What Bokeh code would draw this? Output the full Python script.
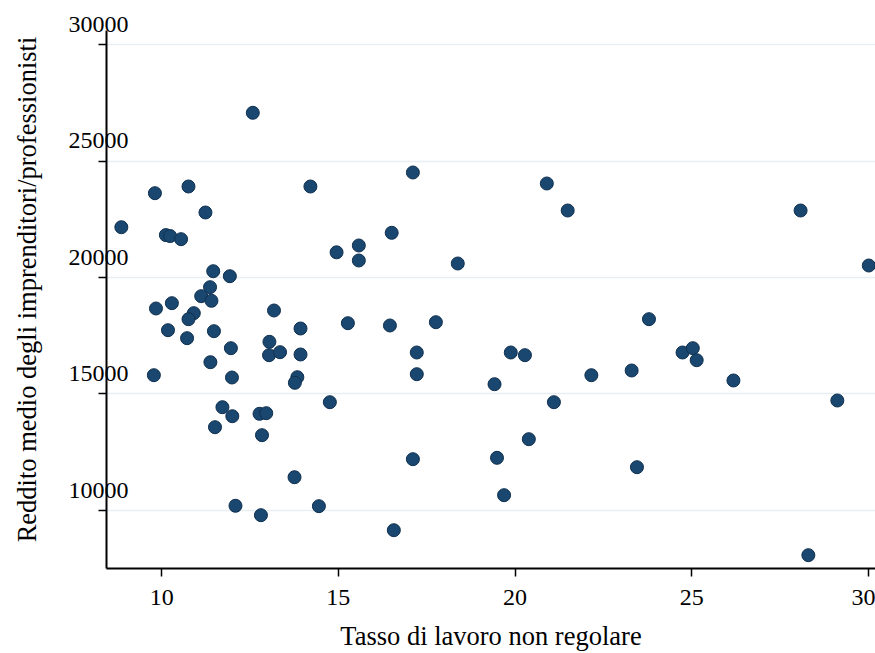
from bokeh.plotting import figure
from bokeh.models import Range1d, LinearAxis, FixedTicker, CustomJSTickFormatter
from bokeh.embed import file_html
from bokeh.resources import INLINE

# Irregular-work rate vs. average income of entrepreneurs/professionals
tasso = [12.58, 8.86, 9.81, 10.76, 11.24, 10.12, 10.24, 10.55, 14.21, 14.95,
         11.46, 11.93, 11.37, 11.12, 11.41, 9.84, 10.29, 10.91, 10.76, 13.18,
         10.18, 10.72, 11.48, 13.93, 15.27, 11.96, 13.05, 13.04, 13.35, 13.93,
         11.38, 9.78, 11.99, 13.84, 13.77, 14.76, 11.72, 12.00, 12.77, 12.96,
         11.51, 12.84, 13.76, 12.09, 12.81, 14.45,
         17.11, 20.90, 21.49, 16.51, 15.58, 15.58, 18.38, 16.46, 17.76,
         17.22, 19.88, 20.28, 17.22, 19.42, 22.16, 21.10, 20.39, 17.11, 19.49,
         19.69, 16.57,
         28.08, 30.01, 23.79, 24.74, 25.03, 25.14, 23.30, 26.18, 29.12, 23.45,
         28.30]
reddito = [27070, 22159, 23619, 23906, 22790, 21820, 21780, 21645, 23906, 21081,
           20270, 20056, 19584, 19198, 19000, 18670, 18898, 18469, 18211, 18584,
           17738, 17395, 17696, 17811, 18039, 16966, 17240, 16666, 16794, 16696,
           16365, 15807, 15708, 15721, 15481, 14648, 14434, 14047, 14150, 14176,
           13575, 13232, 11429, 10202, 9798, 10185,
           24507, 24035, 22876, 21919, 21374, 20730, 20601, 17940, 18082,
           16781, 16781, 16666, 15850, 15421, 15807, 14648, 13060, 12202, 12262,
           10657, 9154,
           22876, 20515, 18211, 16781, 16966, 16451, 16009, 15580, 14721, 11858,
           8082]

x_ticks = [10, 15, 20, 25, 30]
y_ticks = [10000, 15000, 20000, 25000, 30000]

X0, X1 = 8.44, 30.2
Y0, Y1 = 7510, 31460
Y_AXIS_TOP = 30600
LABEL_SHIFT = 860  # y labels sit a little above their tick marks

FONT = "Liberation Serif"
NAVY = "#1a476f"

p = figure(width=875, height=653, output_backend="svg", toolbar_location=None,
           x_range=Range1d(X0, X1), y_range=Range1d(Y0, Y1),
           min_border_left=106, min_border_right=0,
           min_border_top=10, min_border_bottom=85)
p.outline_line_color = None
p.background_fill_color = "white"
p.border_fill_color = "white"

p.extra_y_ranges = {"labels": Range1d(Y0 - LABEL_SHIFT, Y1 - LABEL_SHIFT)}

# x axis
xa = p.xaxis[0]
xa.ticker = FixedTicker(ticks=x_ticks)
xa.axis_label = "Tasso di lavoro non regolare"
xa.axis_label_text_font = FONT
xa.axis_label_text_font_size = "26.5px"
xa.axis_label_text_font_style = "normal"
xa.axis_label_text_color = "black"
xa.axis_label_standoff = 13
xa.major_label_text_font = FONT
xa.major_label_text_font_size = "24px"
xa.major_label_text_color = "black"
xa.major_label_standoff = 13
xa.axis_line_width = 2
xa.axis_line_color = "black"
xa.major_tick_out = 8
xa.major_tick_in = 0
xa.major_tick_line_width = 1.5
xa.minor_tick_line_color = None

# y axis: line and ticks only
ya = p.yaxis[0]
ya.ticker = FixedTicker(ticks=y_ticks)
ya.formatter = CustomJSTickFormatter(code="return ''")
ya.bounds = (Y0, Y_AXIS_TOP)
ya.major_label_standoff = 0
ya.axis_line_width = 2
ya.axis_line_color = "black"
ya.major_tick_out = 8
ya.major_tick_in = 0
ya.major_tick_line_width = 1.5
ya.minor_tick_line_color = None

# y axis: labels and title
yl = LinearAxis(y_range_name="labels", ticker=FixedTicker(ticks=y_ticks))
yl.axis_line_color = None
yl.major_tick_line_color = None
yl.minor_tick_line_color = None
yl.major_tick_out = 0
yl.major_tick_in = 0
yl.major_label_standoff = -30
yl.major_label_text_font = FONT
yl.major_label_text_font_size = "24px"
yl.major_label_text_color = "black"
yl.axis_label = "Reddito medio degli imprenditori/professionisti"
yl.axis_label_text_font = FONT
yl.axis_label_text_font_size = "26.5px"
yl.axis_label_text_font_style = "normal"
yl.axis_label_text_color = "black"
yl.axis_label_standoff = 24
p.add_layout(yl, "left")

p.xgrid.visible = False
p.ygrid.ticker = FixedTicker(ticks=y_ticks)
p.ygrid.grid_line_color = "#e6eef2"
p.ygrid.grid_line_width = 1.5

p.scatter(tasso, reddito, marker="circle", size=13,
          fill_color=NAVY, line_color="#10304f", line_width=1)

open("out.html", "w").write(file_html(p, INLINE))
